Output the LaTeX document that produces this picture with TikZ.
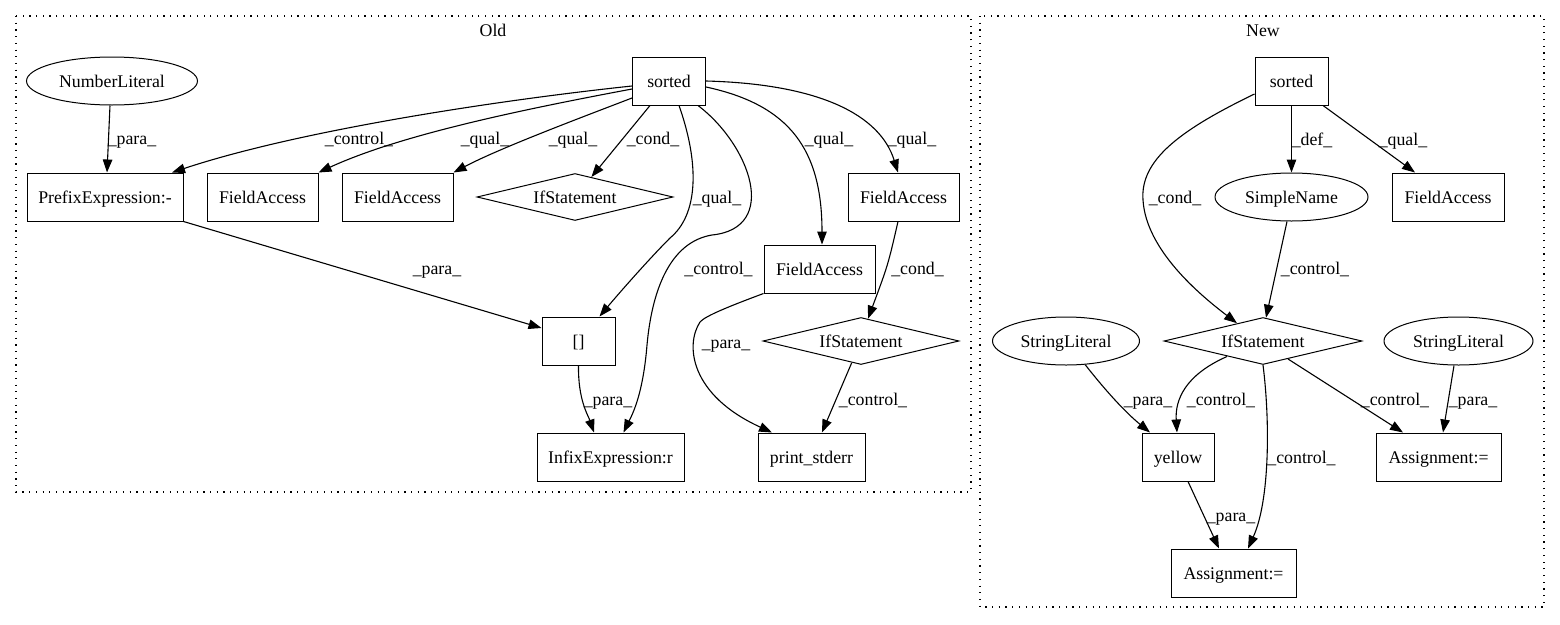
\documentclass[tikz,border=0pt]{standalone}
\usepackage{fontspec}
\setmainfont{Liberation Serif}
\usetikzlibrary{shapes.geometric,arrows.meta}
\begin{document}
\begin{tikzpicture}[x=1pt,y=-1pt,
 every node/.style={font=\fontsize{17.8}{20}\selectfont, text height=12pt, text depth=0pt, line width=1pt},
 box/.style={draw, rectangle, minimum height=48pt, inner sep=0pt},
 ell/.style={draw, ellipse, minimum height=48pt, inner sep=0pt},
 dia/.style={draw, diamond, aspect=4, minimum height=47pt, inner sep=0pt},
 lbl/.style={inner sep=0pt},
 e/.style={line width=1.1pt, -{Triangle[length=13pt,width=9.5pt]}},
 clu/.style={line width=1.2pt, dash pattern=on 1.2pt off 5.5pt}]
\useasboundingbox (0,0) rectangle (1560,624);
% clusters
\draw[clu] (16,16) rectangle (971,492);
\draw[clu] (980,16) rectangle (1544,607);
\node[lbl] (old) at (493,30) {Old};
\node[lbl] (new) at (1263,30) {New};
% Old nodes
\node[ell, minimum width=171pt] (nl) at (112,81) {NumberLiteral};
\node[box, minimum width=73pt] (so) at (669,81) {sorted};
\node[box, minimum width=156pt] (pre) at (105,197) {PrefixExpression:-};
\node[box, minimum width=111pt] (fa1) at (262.5,197) {FieldAccess};
\node[box, minimum width=111pt] (fa2) at (397.5,197) {FieldAccess};
\node[dia, minimum width=196pt] (if1) at (575,197) {IfStatement};
\node[box, minimum width=111pt] (fa3) at (903.5,197) {FieldAccess};
\node[box, minimum width=111pt] (fa4) at (819.5,269) {FieldAccess};
\node[box, minimum width=73pt] (br) at (578.5,341) {[]};
\node[dia, minimum width=196pt] (if2) at (861,341) {IfStatement};
\node[box, minimum width=147pt] (inf) at (610.5,457) {InfixExpression:r};
\node[box, minimum width=107pt] (ps) at (811.5,457) {print\_stderr};
% New nodes
\node[box, minimum width=73pt] (ns) at (1291.5,81) {sorted};
\node[ell, minimum width=153pt] (sn) at (1291.5,197) {SimpleName};
\node[box, minimum width=112pt] (nfa) at (1448,197) {FieldAccess};
\node[dia, minimum width=198pt] (nif) at (1263,341) {IfStatement};
\node[ell, minimum width=147pt] (sl1) at (1066,341) {StringLiteral};
\node[ell, minimum width=149pt] (sl2) at (1458.5,341) {StringLiteral};
\node[box, minimum width=72pt] (ye) at (1178,457) {yellow};
\node[box, minimum width=125pt] (as1) at (1438.5,457) {Assignment:=};
\node[box, minimum width=125pt] (as2) at (1233.5,573) {Assignment:=};
% Old edges
\draw[e] ([xshift=-2pt]nl.south) -- ([xshift=2pt]pre.north);
\draw[e] ([yshift=-5pt]so.west) .. controls (500,100) and (300,130) .. ([xshift=67pt]pre.north);
\draw[e] ([yshift=-8pt]so.west) .. controls (520,110) and (400,135) .. (fa1.north east);
\draw[e] ([yshift=-17pt]so.west) .. controls (580,118) and (500,148) .. (fa2.north east);
\draw[e] ([xshift=-19pt]so.south) -- (if1);
\draw[e] ([xshift=10pt]so.south) .. controls (700,165) and (698,215) .. (670,238) .. controls (650,258) and (620,292) .. ([xshift=21pt]br.north);
\draw[e] ([xshift=29pt]so.south) .. controls (750,145) and (780,228) .. (712,235) .. controls (670,242) and (652,290) .. (647,345) .. controls (643,395) and (632,415) .. ([xshift=13pt]inf.north);
\draw[e] ([yshift=-6pt]so.east) .. controls (790,105) and (822,150) .. ([xshift=2.5pt]fa4.north);
\draw[e] (so.east) .. controls (820,84) and (880,115) .. ([xshift=-5.5pt]fa3.north);
\draw[e] ([xshift=-5.5pt]fa3.south) .. controls (888,265) .. ([xshift=7pt,yshift=-1.7pt]if2.north);
\draw[e] (fa4.south west) .. controls (730,306) and (705,316) .. (700,322) .. controls (685,345) and (690,395) .. ([xshift=-39.5pt]ps.north);
\draw[e] (if2) -- (ps);
\draw[e] (pre.south east) -- ([yshift=13pt]br.west);
\draw[e] (br.south) .. controls (578,400) and (588,415) .. ([xshift=-16.5pt]inf.north);
% New edges
\draw[e] (ns.south) -- (sn.north);
\draw[e] ([xshift=31.5pt]ns.south) -- ([xshift=-33pt]nfa.north);
\draw[e] ([yshift=-13pt]ns.west) .. controls (1180,130) and (1140,160) .. (1143,200) .. controls (1146,250) and (1200,295) .. ([xshift=-26pt,yshift=-6.2pt]nif.north);
\draw[e] ([xshift=-4.5pt]sn.south) -- ([xshift=3pt,yshift=-0.7pt]nif.north);
\draw[e] (sl1.-51) .. controls (1105,390) and (1125,412) .. ([xshift=-28pt]ye.north);
\draw[e] ([xshift=-36pt,yshift=8.5pt]nif.south) .. controls (1185,375) and (1175,400) .. ([xshift=-1pt]ye.north);
\draw[e] (nif.south) .. controls (1270,420) and (1270,500) .. ([xshift=14.5pt]as2.north);
\draw[e] ([xshift=25pt,yshift=6pt]nif.south) -- ([xshift=-35.5pt]as1.north);
\draw[e] ([xshift=-4.5pt]sl2.south) -- ([xshift=4.5pt]as1.north);
\draw[e] ([xshift=10pt]ye.south) -- ([xshift=-14.5pt]as2.north);
% Old labels
\node[lbl] (l1) at (132,138) {\_para\_};
\node[lbl] (l2) at (359,138) {\_control\_};
\node[lbl] (l3) at (485,138) {\_qual\_};
\node[lbl] (l4) at (573,138) {\_qual\_};
\node[lbl] (l5) at (653,138) {\_cond\_};
\node[lbl] (l6) at (717,197) {\_qual\_};
\node[lbl] (l7) at (718.5,268) {\_control\_};
\node[lbl] (l8) at (829,138) {\_qual\_};
\node[lbl] (l9) at (912,138) {\_qual\_};
\node[lbl] (l10) at (917.5,268) {\_cond\_};
\node[lbl] (l11) at (437,268) {\_para\_};
\node[lbl] (l12) at (726,342) {\_para\_};
\node[lbl] (l13) at (873,399) {\_control\_};
\node[lbl] (l14) at (608,399) {\_para\_};
% New labels
\node[lbl] (m1) at (1312,139) {\_def\_};
\node[lbl] (m2) at (1403,139) {\_qual\_};
\node[lbl] (m3) at (1175,197) {\_cond\_};
\node[lbl] (m4) at (1315,268) {\_control\_};
\node[lbl] (m5) at (1148,399) {\_para\_};
\node[lbl] (m6) at (1221,399) {\_control\_};
\node[lbl] (m7) at (1301.5,457) {\_control\_};
\node[lbl] (m8) at (1395,399) {\_control\_};
\node[lbl] (m9) at (1473,399) {\_para\_};
\node[lbl] (m10) at (1231,515) {\_para\_};
\end{tikzpicture}
\end{document}
